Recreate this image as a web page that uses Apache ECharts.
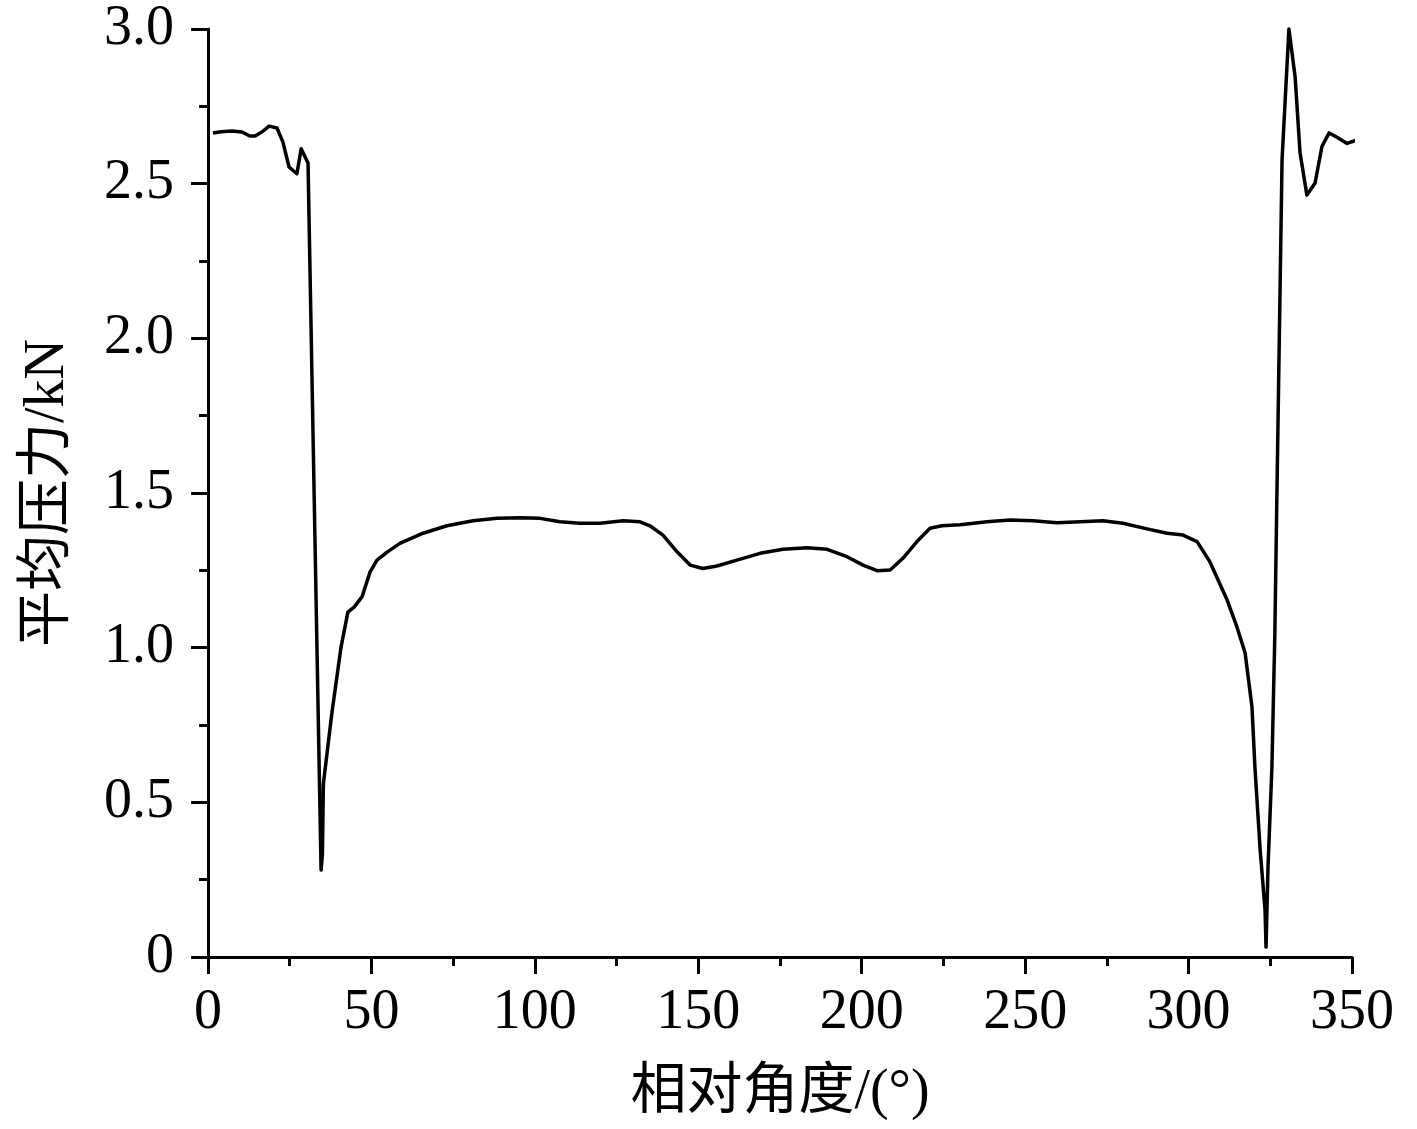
<!DOCTYPE html>
<html>
<head>
<meta charset="utf-8">
<script src="https://cdn.jsdelivr.net/npm/echarts@6/dist/echarts.min.js"></script>
<style>html,body{margin:0;padding:0;background:#fff}#c{width:1417px;height:1129px}</style>
</head>
<body>
<div id="c"></div>
<script>
const angles = [1.5, 4, 7.3, 10.4, 12.8, 14.4, 16.5, 18.7, 21.1, 22.9, 24.8, 27.2, 28.5, 30.6, 34.6, 35.0, 35.3, 37.9, 38.5, 40.7, 42.8, 44.7, 47.1, 49.6, 51.7, 54.8, 58.7, 65.8, 73.1, 81.1, 88.4, 95.5, 101.6, 107.7, 113.8, 119.9, 127.0, 132.2, 135.2, 139.2, 143.5, 147.5, 151.4, 155.7, 161.8, 168.9, 175.9, 183.3, 189.4, 195.5, 200.4, 204.7, 208.7, 212.6, 216.9, 220.9, 224.5, 230.1, 238.3, 245.4, 252.4, 259.7, 266.8, 273.8, 279.9, 287.3, 293.4, 298.3, 302.6, 306.5, 311.8, 314.8, 317.3, 319.4, 320.3, 321.9, 323.4, 323.7, 324.3, 325.5, 326.4, 327.0, 328.6, 330.7, 332.6, 334.1, 336.2, 338.7, 340.8, 343.0, 345.4, 348.5, 352.5];
const pressure = [2.664, 2.668, 2.670, 2.667, 2.654, 2.654, 2.667, 2.686, 2.680, 2.635, 2.554, 2.532, 2.613, 2.567, 0.281, 0.33, 0.56, 0.789, 0.792, 1.002, 1.115, 1.131, 1.164, 1.245, 1.283, 1.309, 1.337, 1.370, 1.394, 1.410, 1.418, 1.420, 1.418, 1.407, 1.402, 1.402, 1.410, 1.407, 1.394, 1.364, 1.310, 1.267, 1.256, 1.264, 1.283, 1.305, 1.318, 1.323, 1.318, 1.294, 1.267, 1.249, 1.251, 1.289, 1.343, 1.386, 1.394, 1.397, 1.407, 1.413, 1.410, 1.404, 1.407, 1.410, 1.402, 1.384, 1.370, 1.364, 1.343, 1.278, 1.154, 1.067, 0.983, 0.808, 0.614, 0.346, 0.152, 0.032, 0.291, 0.614, 1.047, 1.477, 2.577, 3.0, 2.845, 2.6, 2.463, 2.502, 2.62, 2.664, 2.65, 2.63, 2.645];
const xTicks = [0, 50, 100, 150, 200, 250, 300, 350];
const yTicks = [0, 0.5, 1.0, 1.5, 2.0, 2.5, 3.0];
const xName = '相对角度/(°)';
const yName = '平均压力/kN';

const FONT = '"Liberation Serif", "Times New Roman", "Noto Sans CJK SC", serif';
const chart = echarts.init(document.getElementById('c'), null, {renderer: 'canvas'});
const axisCommon = {
  axisLine: {show: true, lineStyle: {color: '#000', width: 3}},
  axisTick: {show: true, inside: false, length: 17, lineStyle: {color: '#000', width: 3}},
  minorTick: {show: true, splitNumber: 2, length: 9, lineStyle: {color: '#000', width: 3}},
  splitLine: {show: false},
  nameTextStyle: {fontFamily: FONT, fontSize: 56, color: '#000'},
};
chart.setOption({
  animation: false,
  backgroundColor: '#fff',
  grid: {left: 208, right: 65, top: 29, bottom: 172, containLabel: false},
  xAxis: Object.assign({}, axisCommon, {
    type: 'value', min: 0, max: 350, interval: 50,
    name: xName, nameLocation: 'middle', nameGap: 108,
    axisLabel: {fontFamily: FONT, fontSize: 56, color: '#000', margin: 28,
      formatter: v => xTicks.includes(v) ? String(v) : ''}
  }),
  yAxis: Object.assign({}, axisCommon, {
    type: 'value', min: 0, max: 3, interval: 0.5,
    name: yName, nameLocation: 'middle', nameGap: 132, nameRotate: 90,
    axisLabel: {fontFamily: FONT, fontSize: 56, color: '#000', margin: 34,
      formatter: v => v === 0 ? '0' : (yTicks.includes(v) ? v.toFixed(1) : '')}
  }),
  series: [{
    type: 'line',
    data: angles.map((a, i) => [a, pressure[i]]),
    showSymbol: false,
    smooth: false,
    lineStyle: {color: '#000', width: 3.5, join: 'round'},
    clip: false
  }]
});
</script>
</body>
</html>
